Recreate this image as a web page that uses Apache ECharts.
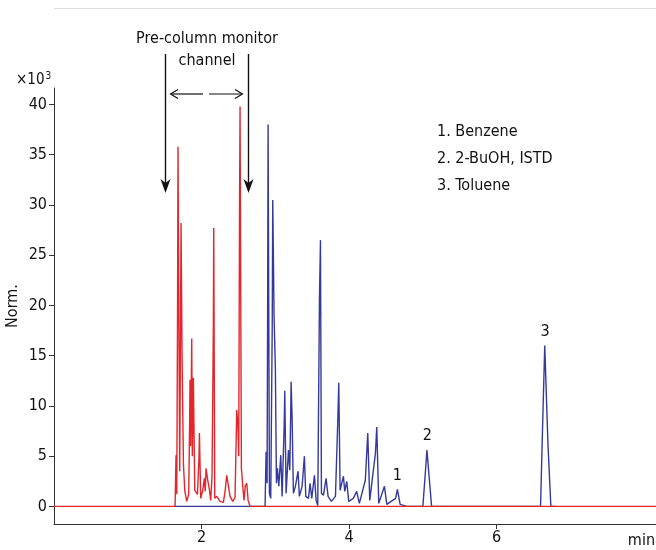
<!DOCTYPE html>
<html lang="en">
<head>
  <meta charset="UTF-8">
  <title>Chromatogram</title>
  <script src="https://cdn.jsdelivr.net/npm/echarts@6/dist/echarts.min.js"></script>
  <style>
    html, body { margin: 0; padding: 0; background: #fff; }
  </style>
</head>
<body>
  <div id="main" style="width: 656px;height:550px;"></div>
  <script>
    // 預柱監測通道（紅色）— 時間 (min) 與訊號 (x10^3)
    var redTime = [0, 1.641, 1.654, 1.664, 1.675, 1.681, 1.690, 1.704, 1.715, 1.722, 1.736, 1.754, 1.772, 1.799, 1.826,
      1.838, 1.844, 1.852, 1.862, 1.867, 1.875, 1.889, 1.908, 1.944, 1.966, 1.971, 1.989, 2.016, 2.038, 2.050, 2.061, 2.084,
      2.106, 2.124, 2.142, 2.160, 2.165, 2.179, 2.206, 2.251, 2.296, 2.319, 2.341, 2.364, 2.386, 2.423, 2.454,
      2.477, 2.491, 2.504, 2.515, 2.522, 2.540, 2.558, 2.576, 2.594, 2.613, 2.631, 2.658, 8.2];
    var redValue = [0, 0, 5.1, 1.2, 20.0, 35.8, 22.4, 3.5, 18.0, 28.2, 14.9, 4.3, 1.6, 0.5, 1.2,
      8.0, 12.6, 6.0, 13.0, 16.7, 5.0, 12.8, 1.6, 1.2, 5.0, 7.3, 0.8, 1.6, 2.8, 1.5, 3.8, 2.6,
      1.7, 0.6, 3.0, 18.0, 27.7, 0.8, 1.0, 0.5, 0.4, 1.5, 3.1, 3.2, 1.0, 0.5, 0.9,
      9.6, 8.4, 5.0, 30.0, 39.8, 3.8, 2.1, 0.6, 2.1, 2.3, 0.6, 0, 0];

    // 分析通道（藍色）
    var blueTime = [1.62, 2.861, 2.875, 2.888, 2.896, 2.902, 2.920, 2.938, 2.958, 2.965, 2.983, 3.001, 3.015, 3.029,
      3.047, 3.074, 3.092, 3.120, 3.128, 3.146, 3.178, 3.196, 3.208, 3.214, 3.227, 3.245, 3.272, 3.308, 3.326, 3.363,
      3.394, 3.413, 3.449, 3.471, 3.494, 3.530, 3.553, 3.575, 3.598, 3.612, 3.625, 3.652, 3.688, 3.715,
      3.760, 3.815, 3.847, 3.860, 3.878, 3.923, 3.941, 3.968, 3.995, 4.057, 4.103, 4.139, 4.220, 4.253,
      4.280, 4.357, 4.375, 4.402, 4.479, 4.511, 4.630, 4.655, 4.692, 4.782,
      5.000, 5.035, 5.055, 5.068, 5.090, 5.118,
      6.595, 6.630, 6.652, 6.670, 6.695, 6.735, 6.80];
    var blueValue = [0, 0, 5.45, 2.3, 20.0, 38.0, 1.3, 0.8, 18.0, 30.5, 18.9, 13.6, 2.3, 3.8,
      2.0, 5.1, 1.0, 8.0, 11.5, 1.3, 5.6, 3.6, 9.0, 12.4, 9.0, 1.3, 2.0, 3.5, 1.0, 2.0,
      5.0, 1.0, 0.8, 2.3, 0.8, 3.1, 0.6, 0.1, 20.5, 26.5, 1.3, 1.1, 2.8, 1.0,
      0.5, 1.0, 8.6, 12.3, 1.6, 3.0, 1.5, 2.5, 0.5, 0.8, 1.5, 0.3, 2.6, 7.3,
      0.6, 5.3, 7.9, 0.3, 2.0, 0.2, 0.8, 1.7, 0.2, 0,
      0, 3.5, 5.6, 5.7, 2.5, 0,
      0, 10.0, 16.0, 16.1, 6.3, 0, 0];

    // 峰標記
    var peakNames = ['1', '2', '3'];
    var peakTime = [4.655, 5.062, 6.655];
    var peakValue = [1.7, 5.7, 16.1];

    var legendLines = ['1. Benzene', '2. 2-BuOH, ISTD', '3. Toluene'];
    var xTicks = [2, 4, 6];
    var yTicks = [0, 5, 10, 15, 20, 25, 30, 35, 40];

    var font = "'Liberation Sans Narrow', 'DejaVu Sans Condensed', 'Roboto', sans-serif";

    function pairs(xs, ys) {
      return xs.map(function (x, i) { return [x, ys[i]]; });
    }

    var myChart = echarts.init(document.getElementById('main'));

    myChart.setOption({
      animation: false,
      textStyle: { fontFamily: font },
      grid: { left: 54, right: 0, top: 88, bottom: 26, containLabel: false, outerBoundsMode: 'none' },
      xAxis: {
        type: 'value',
        min: 0,
        max: 8.16,
        axisLine: { onZero: false, lineStyle: { color: '#333', width: 1 } },
        axisTick: { customValues: xTicks, length: 5, lineStyle: { color: '#333' } },
        axisLabel: { customValues: xTicks, color: '#111', fontSize: 16, margin: 6, fontFamily: font },
        splitLine: { show: false }
      },
      yAxis: {
        type: 'value',
        min: -1.75,
        max: 41.64,
        name: 'Norm.',
        nameLocation: 'middle',
        nameGap: 33,
        nameMoveOverlap: false,
        nameTextStyle: { color: '#111', fontSize: 16, fontFamily: font },
        axisLine: { show: true, onZero: false, lineStyle: { color: '#333', width: 1 } },
        axisTick: { show: true, customValues: yTicks, length: 5, lineStyle: { color: '#333' } },
        axisLabel: { customValues: yTicks, color: '#111', fontSize: 16, margin: 7, fontFamily: font },
        splitLine: { show: false }
      },
      series: [
        {
          name: 'blue',
          type: 'line',
          data: pairs(blueTime, blueValue),
          showSymbol: false,
          lineStyle: { color: '#343a9c', width: 1.4 },
          z: 2,
          markPoint: {
            symbol: 'circle',
            symbolSize: 0,
            label: {
              show: true,
              position: 'top',
              distance: 5,
              color: '#111',
              fontSize: 16,
              fontFamily: font,
              formatter: function (p) { return p.name; }
            },
            data: peakNames.map(function (n, i) {
              return { name: n, coord: [peakTime[i], peakValue[i]] };
            })
          }
        },
        {
          name: 'red',
          type: 'line',
          data: pairs(redTime, redValue),
          showSymbol: false,
          lineStyle: { color: '#e4262c', width: 1.4 },
          z: 3
        }
      ],
      graphic: [
        { type: 'line', shape: { x1: 54, y1: 8.5, x2: 656, y2: 8.5 }, style: { stroke: '#dedede', lineWidth: 1 } },
        // 左右向下箭頭
        { type: 'line', shape: { x1: 165.5, y1: 54, x2: 165.5, y2: 184 }, style: { stroke: '#111', lineWidth: 1.4 } },
        { type: 'polygon', shape: { points: [[160.5, 179], [165.5, 193], [170.5, 179], [165.5, 183]] }, style: { fill: '#111' } },
        { type: 'line', shape: { x1: 248.5, y1: 54, x2: 248.5, y2: 184 }, style: { stroke: '#111', lineWidth: 1.4 } },
        { type: 'polygon', shape: { points: [[243.5, 179], [248.5, 193], [253.5, 179], [248.5, 183]] }, style: { fill: '#111' } },
        // 水平箭頭
        { type: 'line', shape: { x1: 171, y1: 94, x2: 203, y2: 94 }, style: { stroke: '#111', lineWidth: 1.2 } },
        { type: 'polyline', shape: { points: [[178, 89.5], [170.5, 94], [178, 98.5]] }, style: { stroke: '#111', lineWidth: 1.2, fill: null } },
        { type: 'line', shape: { x1: 209, y1: 94, x2: 242, y2: 94 }, style: { stroke: '#111', lineWidth: 1.2 } },
        { type: 'polyline', shape: { points: [[235, 89.5], [242.5, 94], [235, 98.5]] }, style: { stroke: '#111', lineWidth: 1.2, fill: null } },
        { type: 'text', x: 207, y: 39, style: { text: 'Pre-column monitor', fill: '#111', font: '16px ' + font, textAlign: 'center', textVerticalAlign: 'middle' } },
        { type: 'text', x: 207, y: 61, style: { text: 'channel', fill: '#111', font: '16px ' + font, textAlign: 'center', textVerticalAlign: 'middle' } },
        { type: 'text', x: 437, y: 132, style: { text: legendLines[0], fill: '#111', font: '16px ' + font, textVerticalAlign: 'middle' } },
        { type: 'text', x: 437, y: 159, style: { text: legendLines[1], fill: '#111', font: '16px ' + font, textVerticalAlign: 'middle' } },
        { type: 'text', x: 437, y: 186, style: { text: legendLines[2], fill: '#111', font: '16px ' + font, textVerticalAlign: 'middle' } },
        {
          type: 'text', x: 16, y: 80,
          style: {
            text: '{a|×10}{b|3}',
            fill: '#111',
            textVerticalAlign: 'middle',
            rich: {
              a: { fontSize: 15, fontFamily: font, fill: '#111' },
              b: { fontSize: 10, fontFamily: font, fill: '#111', verticalAlign: 'top', padding: [0, 0, 8, 1] }
            }
          }
        },
        { type: 'text', x: 655, y: 541, style: { text: 'min', fill: '#111', font: '16px ' + font, textAlign: 'right', textVerticalAlign: 'middle' } }
      ]
    });
  </script>
</body>
</html>
